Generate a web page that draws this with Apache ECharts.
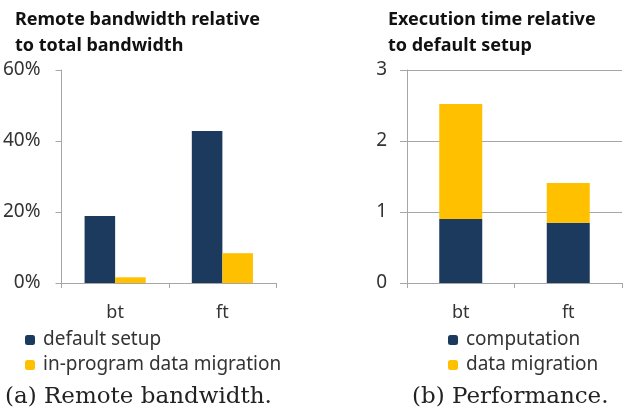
<!DOCTYPE html>
<html>
<head>
<meta charset="utf-8">
<script src="https://cdn.jsdelivr.net/npm/echarts@6/dist/echarts.min.js"></script>
<style>
  html, body { margin: 0; padding: 0; background: #fff; }
  #chart { width: 623px; height: 414px; }
</style>
</head>
<body>
<div id="chart"></div>
<script>
// data
const categories = ["bt", "ft"];
const defaultSetup = [18.9, 42.8];
const inProgramMigration = [1.6, 8.4];
const computation = [0.9, 0.85];
const dataMigration = [1.62, 0.56];

const navy = "#1c3a5e";
const yellow = "#ffc000";
const axisGray = "#a6a6a6";
const labelColor = "#333";
const sans = "Noto Sans";

let chart = echarts.init(document.getElementById("chart"));

const titleStyle = { fontFamily: sans, fontSize: 18, fontWeight: "bold", color: "#111", lineHeight: 26 };
const captionStyle = { fontFamily: "DejaVu Serif", fontSize: 23, fontWeight: "normal", color: "#222" };
const legendText = { fontFamily: sans, fontSize: 19, lineHeight: 20, color: labelColor, padding: [0, 0, 0, 3] };

let option = {
  animation: false,
  title: [
    { text: "Remote bandwidth relative\nto total bandwidth", left: 10, top: 2, textStyle: titleStyle },
    { text: "Execution time relative\nto default setup", left: 383, top: 2, textStyle: titleStyle },
    { text: "(a) Remote bandwidth.", left: 0, top: 381, textStyle: captionStyle },
    { text: "(b) Performance.", left: 407, top: 381, textStyle: captionStyle },
  ],
  legend: [
    {
      data: ["default setup", "in-program data migration"],
      orient: "vertical",
      left: 20,
      top: 325,
      itemWidth: 10,
      itemHeight: 10,
      itemGap: 5,
      textStyle: legendText,
    },
    {
      data: ["computation", "data migration"],
      orient: "vertical",
      left: 443,
      top: 325,
      itemWidth: 10,
      itemHeight: 10,
      itemGap: 5,
      textStyle: legendText,
    },
  ],
  grid: [
    { left: 61, right: 347, top: 70, bottom: 131 },
    { left: 407, right: 1, top: 70, bottom: 131 },
  ],
  xAxis: [0, 1].map((i) => ({
    type: "category",
    gridIndex: i,
    data: categories,
    axisLine: { lineStyle: { color: axisGray } },
    axisTick: { show: true, length: 5, lineStyle: { color: axisGray } },
    axisLabel: { fontFamily: sans, fontSize: 18, color: labelColor, margin: 21 },
  })),
  yAxis: [
    {
      type: "value",
      gridIndex: 0,
      min: 0,
      max: 60,
      interval: 20,
      axisLine: { show: true, lineStyle: { color: axisGray } },
      axisTick: { show: true, length: 6, lineStyle: { color: axisGray } },
      splitLine: { show: false },
      axisLabel: { fontFamily: sans, fontSize: 19, color: labelColor, margin: 21, formatter: "{value}%" },
    },
    {
      type: "value",
      gridIndex: 1,
      min: 0,
      max: 3,
      interval: 1,
      axisLine: { show: true, lineStyle: { color: axisGray } },
      axisTick: { show: true, length: 7, lineStyle: { color: axisGray } },
      splitLine: { show: true, lineStyle: { color: axisGray } },
      axisLabel: { fontFamily: sans, fontSize: 19, color: labelColor, margin: 20 },
    },
  ],
  series: [
    {
      name: "default setup",
      type: "bar",
      xAxisIndex: 0,
      yAxisIndex: 0,
      data: defaultSetup,
      itemStyle: { color: navy },
      barGap: "0%",
      barCategoryGap: "43%",
    },
    {
      name: "in-program data migration",
      type: "bar",
      xAxisIndex: 0,
      yAxisIndex: 0,
      data: inProgramMigration,
      itemStyle: { color: yellow },
    },
    {
      name: "computation",
      type: "bar",
      xAxisIndex: 1,
      yAxisIndex: 1,
      stack: "time",
      data: computation,
      itemStyle: { color: navy },
      barCategoryGap: "60%",
    },
    {
      name: "data migration",
      type: "bar",
      xAxisIndex: 1,
      yAxisIndex: 1,
      stack: "time",
      data: dataMigration,
      itemStyle: { color: yellow },
    },
  ],
};

option && chart.setOption(option);
</script>
</body>
</html>
